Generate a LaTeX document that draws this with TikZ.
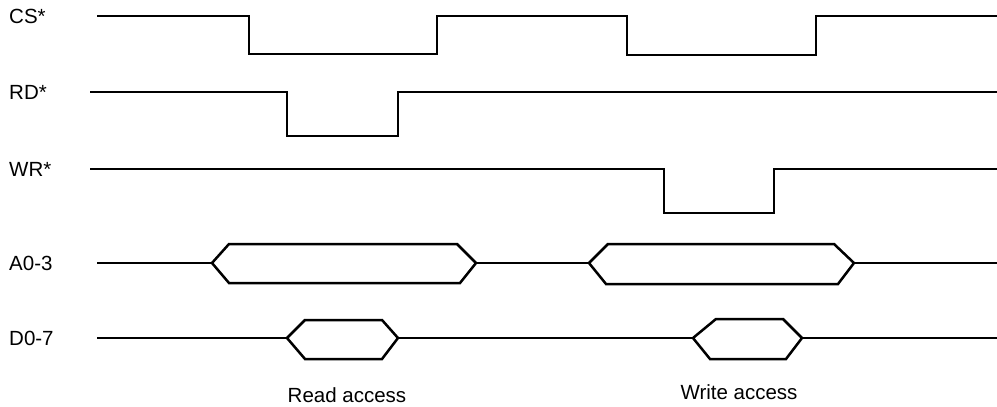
\documentclass[tikz,border=0pt]{standalone}
\usepackage{fontspec}
\setmainfont{Liberation Sans}
\begin{document}
\begin{tikzpicture}[x=1pt,y=-1pt,
  wave/.style={line width=2.5pt, line join=miter, line cap=butt},
  lbl/.style={anchor=west, inner sep=0pt, font=\fontsize{20.5}{24}\selectfont},
  caption/.style={anchor=base, inner sep=0pt, font=\fontsize{20.5}{24}\selectfont}]
\useasboundingbox (0,0) rectangle (997,407);
% signal labels
\node[lbl] (cs) at (9,16) {CS*};
\node[lbl] (rd) at (9,92) {RD*};
\node[lbl] (wr) at (9,169) {WR*};
\node[lbl] (a) at (9,263) {A0-3};
\node[lbl] (d) at (9,338) {D0-7};
\node[caption] (read) at (347,402) {Read access};
\node[caption] (write) at (739,399) {Write access};
% CS*
\draw[wave] (97,16) -- (249,16) -- (249,54) -- (437,54) -- (437,16) -- (627,16)
  -- (627,55) -- (816,55) -- (816,16) -- (997,16);
% RD*
\draw[wave] (90,92) -- (287,92) -- (287,136) -- (398,136) -- (398,92) -- (997,92);
% WR*
\draw[wave] (90,169) -- (664,169) -- (664,213) -- (774,213) -- (774,169) -- (997,169);
% A0-3
\draw[wave] (97,263) -- (212,263);
\draw[wave] (212,263) -- (229,244) -- (457,244) -- (476,263) -- (460,283) -- (229,283) -- cycle;
\draw[wave] (476,263) -- (589,263);
\draw[wave] (589,263) -- (608,244) -- (834,244) -- (854,263) -- (838,284) -- (606,284) -- cycle;
\draw[wave] (854,263) -- (997,263);
% D0-7
\draw[wave] (97,338) -- (287,338);
\draw[wave] (287,338) -- (305,320) -- (382,320) -- (398,338) -- (382,359) -- (305,359) -- cycle;
\draw[wave] (398,338) -- (693,338);
\draw[wave] (693,338) -- (716,319) -- (783,319) -- (802,338) -- (786,359) -- (710,359) -- cycle;
\draw[wave] (802,338) -- (997,338);
\end{tikzpicture}
\end{document}
